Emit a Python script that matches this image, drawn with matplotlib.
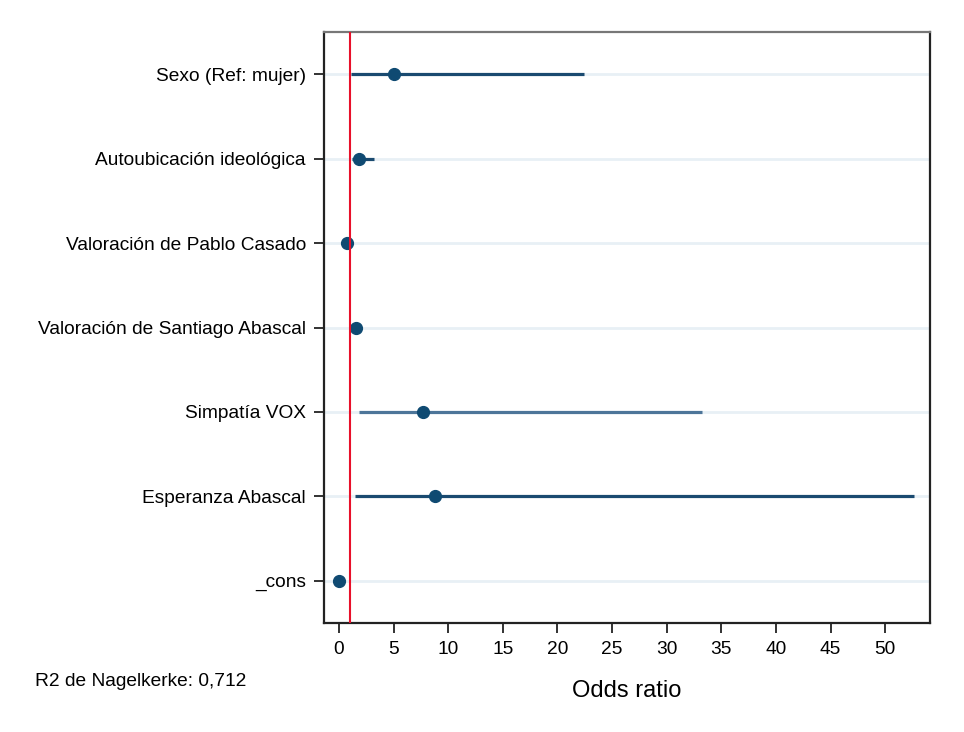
import matplotlib.pyplot as plt

plt.rcParams['font.family'] = ['Liberation Sans', 'DejaVu Sans']

labels = ["Sexo (Ref: mujer)", "Autoubicación ideológica", "Valoración de Pablo Casado",
          "Valoración de Santiago Abascal", "Simpatía VOX", "Esperanza Abascal", "_cons"]
odds = [5.0, 1.8, 0.7, 1.55, 7.7, 8.8, 0.0]
ci_low = [1.1, 1.2, 0.7, 1.55, 1.8, 1.5, 0.0]
ci_high = [22.4, 3.2, 0.7, 1.55, 33.2, 52.6, 0.0]
line_colors = ["#1a4a70", "#1a4a70", "#1a4a70", "#1a4a70", "#4d7599", "#1a4a70", "#1a4a70"]
xticks = list(range(0, 55, 5))

fig = plt.figure(figsize=(9.64, 7.32), dpi=100)
ax = fig.add_axes([324 / 964, 1 - 623 / 732, (930 - 324) / 964, (623 - 32) / 732])

ypos = list(range(1, len(labels) + 1))
for y in ypos:
    ax.axhline(y, color="#e8f0f5", lw=2, zorder=0)

for y, o, lo, hi, c in zip(ypos, odds, ci_low, ci_high, line_colors):
    if hi > lo:
        ax.plot([lo, hi], [y, y], color=c, lw=2.3, solid_capstyle="butt", zorder=2)
    ax.plot(o, y, "o", color="#0f4a72", ms=8.5, zorder=3)

ax.axvline(1, color="#e8102a", lw=1.5, zorder=4)

ax.set_xlim(-1.37, 54.1)
ax.set_ylim(7.5, 0.5)
ax.set_yticks(ypos)
ax.set_yticklabels(labels, fontsize=13.8)
ax.set_xticks(xticks)
ax.set_xticklabels([str(t) for t in xticks], fontsize=13.8)
ax.tick_params(axis="both", length=7, width=1.3, color="#222222", pad=6)
ax.set_xlabel("Odds ratio", fontsize=17, labelpad=16)

for side in ["left", "bottom", "right"]:
    ax.spines[side].set_linewidth(1.6)
    ax.spines[side].set_color("#222222")
ax.spines["top"].set_color("#777777")
ax.spines["top"].set_linewidth(1.6)

fig.text(35 / 964, 1 - 682 / 732, "R2 de Nagelkerke: 0,712", fontsize=13.8, va="center", ha="left")

fig.savefig("out.png", dpi=100, facecolor="white")
